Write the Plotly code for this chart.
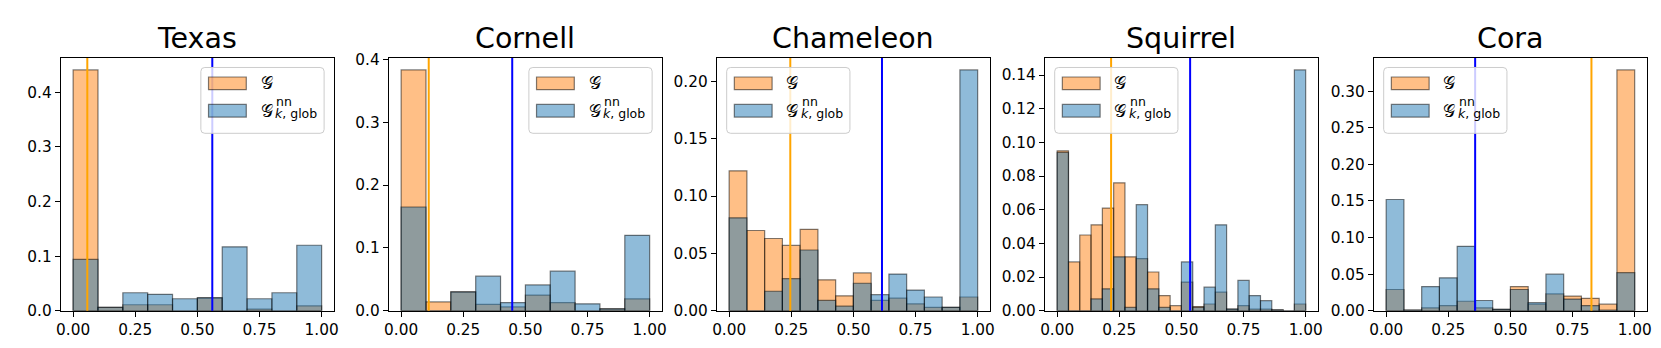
import plotly.graph_objects as go

titles = ["Texas", "Cornell", "Chameleon", "Squirrel", "Cora"]

texas_g = [0.441, 0.006, 0.011, 0.011, 0.0, 0.023, 0.0, 0.003, 0.0, 0.009]
texas_nn = [0.094, 0.006, 0.033, 0.030, 0.022, 0.024, 0.117, 0.022, 0.033, 0.120]

cornell_g = [0.383, 0.014, 0.030, 0.010, 0.006, 0.025, 0.013, 0.0, 0.003, 0.019]
cornell_nn = [0.165, 0.0, 0.030, 0.055, 0.013, 0.041, 0.063, 0.011, 0.003, 0.120]

chameleon_g = [0.122, 0.070, 0.063, 0.057, 0.071, 0.027, 0.013, 0.033, 0.009, 0.011, 0.006, 0.003, 0.003, 0.012]
chameleon_nn = [0.081, 0.0, 0.017, 0.028, 0.053, 0.009, 0.004, 0.024, 0.014, 0.032, 0.018, 0.012, 0.003, 0.210]

squirrel_g = [0.095, 0.029, 0.045, 0.051, 0.061, 0.076, 0.032, 0.031, 0.023, 0.009, 0.003,
              0.017, 0.0025, 0.004, 0.011, 0.001, 0.003, 0.001, 0.001, 0.0005, 0.0, 0.004]
squirrel_nn = [0.094, 0.0, 0.0, 0.007, 0.013, 0.032, 0.002, 0.063, 0.013, 0.002, 0.0,
               0.029, 0.002, 0.014, 0.051, 0.001, 0.018, 0.009, 0.006, 0.0005, 0.0, 0.143]

cora_g = [0.029, 0.001, 0.004, 0.007, 0.013, 0.004, 0.002, 0.033, 0.009, 0.023, 0.020, 0.017, 0.009, 0.329]
cora_nn = [0.152, 0.001, 0.033, 0.045, 0.088, 0.014, 0.002, 0.029, 0.011, 0.050, 0.016, 0.007, 0.001, 0.052]

# mean lines (x positions)
mean_g = [0.057, 0.111, 0.246, 0.217, 0.826]
mean_nn = [0.560, 0.447, 0.615, 0.535, 0.358]

y_ticks = [
    [0.0, 0.1, 0.2, 0.3, 0.4],
    [0.0, 0.1, 0.2, 0.3, 0.4],
    [0.0, 0.05, 0.10, 0.15, 0.20],
    [0.0, 0.02, 0.04, 0.06, 0.08, 0.10, 0.12, 0.14],
    [0.0, 0.05, 0.10, 0.15, 0.20, 0.25, 0.30],
]
y_fmt = [".1f", ".1f", ".2f", ".2f", ".2f"]
x_ticks = [0.0, 0.25, 0.5, 0.75, 1.0]
legend_side = ["right", "right", "left", "left", "left"]

data_g = [texas_g, cornell_g, chameleon_g, squirrel_g, cora_g]
data_nn = [texas_nn, cornell_nn, chameleon_nn, squirrel_nn, cora_nn]

W, H = 1661, 348
lefts = [48, 378, 708, 1038, 1369]
pw = 275
top_px, bot_px = 45, 310

FONT = "DejaVu Sans"
TICK = 15.3
ORANGE = "rgba(255,127,14,0.5)"
BLUE = "rgba(31,119,180,0.5)"
EDGE = "rgba(0,0,0,0.5)"


def px(x):
    return x / W


def py(y):
    return 1 - y / H


def rounded_box(x0, y0, x1, y1, r):
    pts = [
        f"M{px(x0 + r)},{py(y0)}", f"L{px(x1 - r)},{py(y0)}",
        f"Q{px(x1)},{py(y0)} {px(x1)},{py(y0 + r)}", f"L{px(x1)},{py(y1 - r)}",
        f"Q{px(x1)},{py(y1)} {px(x1 - r)},{py(y1)}", f"L{px(x0 + r)},{py(y1)}",
        f"Q{px(x0)},{py(y1)} {px(x0)},{py(y1 - r)}", f"L{px(x0)},{py(y0 + r)}",
        f"Q{px(x0)},{py(y0)} {px(x0 + r)},{py(y0)}", "Z",
    ]
    return " ".join(pts)


fig = go.Figure()
shapes, annotations = [], []
layout = dict(
    width=W, height=H,
    margin=dict(l=0, r=0, t=0, b=0),
    paper_bgcolor="white", plot_bgcolor="white",
    barmode="overlay", showlegend=False,
    font=dict(family=FONT, size=TICK, color="black"),
)

for i in range(5):
    n = len(data_g[i])
    w = 1.0 / n
    centers = [(k + 0.5) * w for k in range(n)]
    sfx = "" if i == 0 else str(i + 1)
    fig.add_trace(go.Bar(
        x=centers, y=data_g[i], width=w, name="G",
        marker=dict(color=ORANGE, line=dict(color=EDGE, width=1.2)),
        xaxis="x" + sfx, yaxis="y" + sfx,
    ))
    fig.add_trace(go.Bar(
        x=centers, y=data_nn[i], width=w, name="G nn k,glob",
        marker=dict(color=BLUE, line=dict(color=EDGE, width=1.2)),
        xaxis="x" + sfx, yaxis="y" + sfx,
    ))
    x0 = px(lefts[i])
    x1 = px(lefts[i] + pw)
    ymax = max(max(data_g[i]), max(data_nn[i])) * 1.05
    axis_common = dict(
        showline=True, linecolor="black", linewidth=1, mirror=True,
        ticks="outside", ticklen=5, tickwidth=1, tickcolor="black",
        showgrid=False, zeroline=False,
        tickfont=dict(family=FONT, size=TICK, color="black"),
    )
    layout["xaxis" + sfx] = dict(
        domain=[x0, x1], range=[-0.05, 1.05], anchor="y" + sfx,
        tickvals=x_ticks, tickformat=".2f", **axis_common,
    )
    layout["yaxis" + sfx] = dict(
        domain=[py(bot_px), py(top_px)], range=[0, ymax], anchor="x" + sfx,
        tickvals=y_ticks[i], tickformat=y_fmt[i], **axis_common,
    )
    xr = "x" + sfx
    yr = ("y" + sfx) + " domain"
    shapes.append(dict(type="line", xref=xr, yref=yr, x0=mean_g[i], x1=mean_g[i],
                       y0=0, y1=1, line=dict(color="orange", width=2), layer="above"))
    shapes.append(dict(type="line", xref=xr, yref=yr, x0=mean_nn[i], x1=mean_nn[i],
                       y0=0, y1=1, line=dict(color="blue", width=2), layer="above"))
    annotations.append(dict(
        text=titles[i], xref="paper", yref="paper", x=(x0 + x1) / 2, y=py(25),
        xanchor="center", yanchor="middle", showarrow=False,
        font=dict(family=FONT, size=28.5, color="black"),
    ))

    # legend (drawn like matplotlib's)
    bw, bh = 124, 69
    if legend_side[i] == "right":
        bx0 = lefts[i] + pw - 10 - bw
    else:
        bx0 = lefts[i] + 10
    by0 = top_px + 10
    shapes.append(dict(type="path", xref="paper", yref="paper",
                       path=rounded_box(bx0, by0, bx0 + bw, by0 + bh, 4),
                       fillcolor="rgba(255,255,255,0.8)", line=dict(color="#cccccc", width=1),
                       layer="above"))
    for j, col in enumerate([ORANGE, BLUE]):
        ty = by0 + 10 + j * 28.7
        shapes.append(dict(type="rect", xref="paper", yref="paper",
                           x0=px(bx0 + 7.7), x1=px(bx0 + 45.7), y0=py(ty), y1=py(ty + 13.3),
                           fillcolor=col, line=dict(color=EDGE, width=1.2), layer="above"))
        annotations.append(dict(
            text="𝒢", xref="paper", yref="paper", x=px(bx0 + 58), y=py(ty + 6.8),
            xanchor="left", yanchor="middle", showarrow=False,
            font=dict(family=FONT, size=17, color="black"),
        ))
        if j == 1:
            annotations.append(dict(
                text="nn", xref="paper", yref="paper", x=px(bx0 + 74), y=py(ty - 2.7),
                xanchor="left", yanchor="middle", showarrow=False,
                font=dict(family=FONT, size=12.5, color="black"),
            ))
            annotations.append(dict(
                text="<i>k</i>, glob", xref="paper", yref="paper", x=px(bx0 + 73), y=py(ty + 9.6),
                xanchor="left", yanchor="middle", showarrow=False,
                font=dict(family=FONT, size=12.5, color="black"),
            ))

layout["shapes"] = shapes
layout["annotations"] = annotations
fig.update_layout(**layout)
fig.write_html("out.html")
